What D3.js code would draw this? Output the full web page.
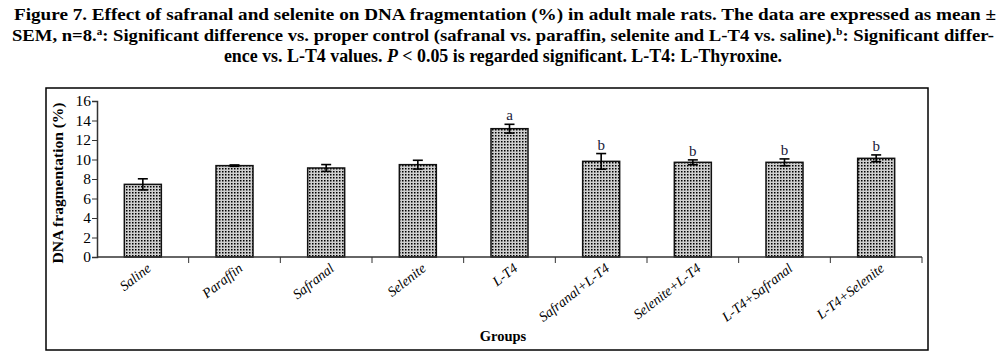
<!DOCTYPE html>
<html><head><meta charset="utf-8">
<script src="https://cdn.jsdelivr.net/npm/d3@7"></script>
<style>body{margin:0;background:#fff}svg{display:block}</style>
</head><body>
<svg id="c" width="1006" height="359"></svg>
<script>
const categories = ["Saline","Paraffin","Safranal","Selenite","L-T4","Safranal+L-T4","Selenite+L-T4","L-T4+Safranal","L-T4+Selenite"];
const means = [7.45, 9.37, 9.13, 9.47, 13.16, 9.81, 9.71, 9.71, 10.12];
const sems  = [0.57, 0.07, 0.35, 0.45, 0.45, 0.80, 0.25, 0.35, 0.35];
const sigLetters = ["", "", "", "", "a", "b", "b", "b", "b"];
const yTicks = [0,2,4,6,8,10,12,14,16];

const svg = d3.select("#c");
const serif = "'Liberation Serif','DejaVu Serif',serif";

// title
const title = svg.append("g").attr("font-family", serif).attr("font-weight","bold").attr("font-size",17).attr("fill","#000");
title.append("text").attr("x",505).attr("y",20).attr("text-anchor","middle")
  .attr("textLength",982).attr("lengthAdjust","spacingAndGlyphs")
  .text("Figure 7. Effect of  safranal and selenite on DNA fragmentation (%) in adult male rats. The data are expressed as mean ±");
const t2 = title.append("text").attr("x",503).attr("y",41).attr("text-anchor","middle")
  .attr("textLength",982).attr("lengthAdjust","spacingAndGlyphs");
t2.append("tspan").text("SEM, n=8.");
t2.append("tspan").attr("font-size",10).attr("dy",-6).text("a");
t2.append("tspan").attr("dy",6).text(": Significant difference vs. proper control (safranal vs. paraffin, selenite and L-T4 vs. saline).");
t2.append("tspan").attr("font-size",10).attr("dy",-6).text("b");
t2.append("tspan").attr("dy",6).text(": Significant differ-");
const t3 = title.append("text").attr("x",503).attr("y",62).attr("text-anchor","middle")
  .attr("font-size",17.9);
t3.append("tspan").text("ence vs. L-T4 values. ");
t3.append("tspan").attr("font-style","italic").text("P");
t3.append("tspan").text(" < 0.05 is regarded significant. L-T4: L-Thyroxine.");

// frame
svg.append("rect").attr("x",46).attr("y",88).attr("width",882).attr("height",262)
  .attr("fill","none").attr("stroke","#000").attr("stroke-width",1.5);

// pattern
const defs = svg.append("defs");
const pat = defs.append("pattern").attr("id","dots").attr("patternUnits","userSpaceOnUse")
  .attr("width",3).attr("height",3);
pat.append("rect").attr("width",3).attr("height",3).attr("fill","#cfcfcf");
pat.append("rect").attr("width",1.5).attr("height",1.5).attr("fill","#000");

const xb = d3.scaleBand().domain(categories).range([97,922]);
const y = d3.scaleLinear().domain([0,16]).range([257,101]);

// bars
svg.append("g").selectAll("rect").data(categories).join("rect")
  .attr("x",d=>xb(d)+xb.bandwidth()/2-18.5)
  .attr("width",37)
  .attr("y",(d,i)=>y(means[i]))
  .attr("height",(d,i)=>y(0)-y(means[i]))
  .attr("fill","url(#dots)").attr("stroke","#111").attr("stroke-width",1.5);

// error bars
const eg = svg.append("g").attr("stroke","#000").attr("stroke-width",1.6);
categories.forEach((c,i)=>{
  const cx = xb(c)+xb.bandwidth()/2;
  const top = y(means[i]+sems[i]), bot = y(means[i]-sems[i]);
  eg.append("line").attr("x1",cx).attr("x2",cx).attr("y1",top).attr("y2",bot);
  eg.append("line").attr("x1",cx-5).attr("x2",cx+5).attr("y1",top).attr("y2",top);
  eg.append("line").attr("x1",cx-5).attr("x2",cx+5).attr("y1",bot).attr("y2",bot);
});

// significance letters
svg.append("g").attr("font-family",serif).attr("font-size",15).attr("text-anchor","middle").attr("fill","#1a1a3a")
  .selectAll("text").data(categories).join("text")
  .attr("x",d=>xb(d)+xb.bandwidth()/2)
  .attr("y",(d,i)=>y(means[i]+sems[i])-4)
  .text((d,i)=>sigLetters[i]);

// y axis
const ya = svg.append("g").attr("transform","translate(97,0)")
  .call(d3.axisLeft(y).tickValues(yTicks).tickSize(5).tickPadding(1).tickFormat(d3.format("d")));
ya.select(".domain").attr("stroke","#333").attr("stroke-width",1.5);
ya.selectAll(".tick line").attr("stroke","#333");
ya.selectAll("text").attr("font-family",serif).attr("font-size",15.5).attr("fill","#000");

// x axis line and ticks at band boundaries
const xg = svg.append("g");
xg.append("line").attr("x1",97).attr("x2",922).attr("y1",257).attr("y2",257).attr("stroke","#333").attr("stroke-width",1.5);
xg.selectAll("line.t").data(categories).join("line").attr("class","t")
  .attr("x1",d=>xb(d)+xb.bandwidth()).attr("x2",d=>xb(d)+xb.bandwidth())
  .attr("y1",257).attr("y2",263).attr("stroke","#333");
xg.selectAll("text").data(categories).join("text")
  .attr("font-family",serif).attr("font-style","italic").attr("font-size",14)
  .attr("text-anchor","end")
  .attr("transform",d=>`translate(${xb(d)+xb.bandwidth()/2+9},${270}) rotate(-38)`)
  .text(d=>d);

// axis titles
svg.append("text").attr("font-family",serif).attr("font-weight","bold").attr("font-size",15.5)
  .attr("text-anchor","middle").attr("transform","translate(63,183) rotate(-90)")
  .text("DNA fragmentation (%)");
svg.append("text").attr("font-family",serif).attr("font-weight","bold").attr("font-size",14.5)
  .attr("text-anchor","middle").attr("x",503).attr("y",341).text("Groups");
</script>
</body></html>
